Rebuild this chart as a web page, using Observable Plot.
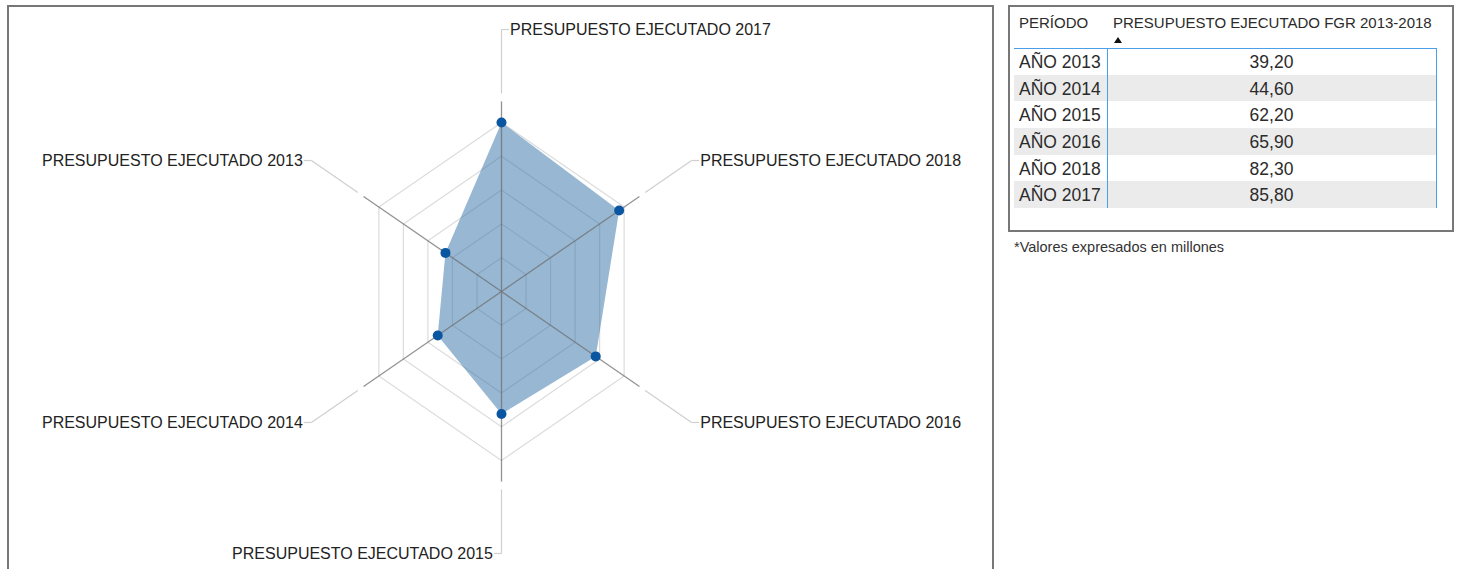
<!DOCTYPE html>
<html>
<head>
<meta charset="utf-8">
<script src="https://cdn.jsdelivr.net/npm/d3@7"></script>
<script src="https://cdn.jsdelivr.net/npm/@observablehq/plot@0.6"></script>
<style>
  html, body { margin: 0; padding: 0; background: #fff; width: 1459px; height: 569px; overflow: hidden; font-family: "Liberation Sans", Arial, sans-serif; }
  .abs { position: absolute; }
  #leftbox { left: 7px; top: 5px; width: 987px; height: 620px; border: 2px solid #777; box-sizing: border-box; }
  #rightbox { left: 1008px; top: 5px; width: 446px; height: 227px; border: 2px solid #777; box-sizing: border-box; }
  #chart { left: 0; top: 0; }
  .cell { position: absolute; color: #2b2b2b; white-space: nowrap; line-height: 1; }
</style>
</head>
<body>
<div id="leftbox" class="abs"></div>
<div id="chart" class="abs"></div>
<div id="rightbox" class="abs"></div>
<div id="table" class="abs" style="left:0;top:0;"></div>
<script>
// ---- data ----
const periods = ["AÑO 2013", "AÑO 2014", "AÑO 2015", "AÑO 2016", "AÑO 2018", "AÑO 2017"];
const periodYears = [2013, 2014, 2015, 2016, 2018, 2017];
const values = [39.2, 44.6, 62.2, 65.9, 82.3, 85.8];
const axisYears = [2017, 2018, 2016, 2015, 2014, 2013];
const axisLabels = ["PRESUPUESTO EJECUTADO 2017", "PRESUPUESTO EJECUTADO 2018", "PRESUPUESTO EJECUTADO 2016",
                    "PRESUPUESTO EJECUTADO 2015", "PRESUPUESTO EJECUTADO 2014", "PRESUPUESTO EJECUTADO 2013"];
const ringLevels = [1, 2, 3, 4, 5];
const tableHeader = ["PERÍODO", "PRESUPUESTO EJECUTADO FGR 2013-2018"];
const note = "*Valores expresados en millones";

// ---- geometry ----
const W = 1000, H = 569, cx = 501, cy = 291;
const maxV = d3.max(values);
const k = 169 / maxV;          // px per unit vertically
const kx = k * 0.838;          // px per unit horizontally
const n = axisYears.length;
const ang = i => (90 - 60 * i) * Math.PI / 180;
const valOf = y => values[periodYears.indexOf(y)];

const pts = axisYears.map((y, i) => ({i, year: y, v: valOf(y), x: valOf(y) * Math.cos(ang(i)), y: valOf(y) * Math.sin(ang(i))}));

const rings = [];
ringLevels.forEach(l => {
  const r = maxV * l / ringLevels.length;
  for (let i = 0; i <= n; i++) rings.push({ring: l, x: r * Math.cos(ang(i % n)), y: r * Math.sin(ang(i % n))});
});

const rDark = 96.5, rLight0 = 100.5, rLight1 = 133, tick = 4.6;
const axes = axisYears.map((y, i) => {
  const c = Math.cos(ang(i)), s = Math.sin(ang(i));
  const ex = rLight1 * c, ey = rLight1 * s;
  const side = (i === 0 || i === 1 || i === 2) ? 1 : -1;
  return {i, label: axisLabels[i], dx2: rDark * c, dy2: rDark * s, lx1: rLight0 * c, ly1: rLight0 * s,
          ex, ey, tx: ex + side * tick, side};
});

const chart = Plot.plot({
  width: W, height: H,
  marginTop: 0, marginBottom: 0, marginLeft: 0, marginRight: 0,
  style: {fontFamily: "'Liberation Sans', Arial, sans-serif", background: "transparent", overflow: "visible"},
  x: {domain: [-cx / kx, (W - cx) / kx], axis: null},
  y: {domain: [-(H - cy) / k, cy / k], axis: null},
  marks: [
    Plot.line(rings, {x: "x", y: "y", z: "ring", stroke: "#dcdcdc", strokeWidth: 1.2}),
    Plot.line(pts, {x: "x", y: "y", curve: "linear-closed", fill: "#2f6fa8", fillOpacity: 0.5, stroke: "none"}),
    Plot.link(axes, {x1: 0, y1: 0, x2: "dx2", y2: "dy2", stroke: "#6f6f6f", strokeOpacity: 0.75, strokeWidth: 1.3}),
    Plot.link(axes, {x1: "lx1", y1: "ly1", x2: "ex", y2: "ey", stroke: "#cfcfcf", strokeWidth: 1.2}),
    Plot.link(axes, {x1: "ex", y1: "ey", x2: "tx", y2: "ey", stroke: "#cfcfcf", strokeWidth: 1.2}),
    Plot.text(axes.filter(d => d.side > 0), {x: "tx", y: "ey", text: "label", textAnchor: "start", dx: 1, fontSize: 16, fill: "#222"}),
    Plot.text(axes.filter(d => d.side < 0), {x: "tx", y: "ey", text: "label", textAnchor: "end", dx: -1, fontSize: 16, fill: "#222"}),
    Plot.dot(pts, {x: "x", y: "y", r: 5, fill: "#0b56a0"})
  ]
});
document.getElementById("chart").appendChild(chart);

// ---- table ----
const t = document.getElementById("table");
function add(html, style) { const d = document.createElement("div"); d.className = "cell"; d.innerHTML = html; Object.assign(d.style, style); t.appendChild(d); return d; }
const top0 = 48, rowH = 26.67, tL = 1014, tR = 1436, colX = 1107;
periods.forEach((p, i) => {
  const y = top0 + i * rowH;
  if (i % 2 === 1) add("", {left: tL + "px", top: y + "px", width: (tR - tL) + "px", height: rowH + "px", background: "#ebebeb"});
  add(p, {left: "1019px", top: (y + 6) + "px", fontSize: "17.5px"});
  add(values[i].toFixed(2).replace(".", ","), {left: colX + "px", width: (tR - colX) + "px", textAlign: "center", top: (y + 6) + "px", fontSize: "17.5px"});
});
add(tableHeader[0], {left: "1019px", top: "15px", fontSize: "15px"});
add(tableHeader[1], {left: "1113px", top: "15px", fontSize: "15px"});
add("", {left: "1114px", top: "37px", width: 0, height: 0, borderLeft: "4px solid transparent", borderRight: "4px solid transparent", borderBottom: "6px solid #111"});
add("", {left: tL + "px", top: top0 + "px", width: (tR - tL) + "px", height: "0", borderTop: "1.5px solid #4b9fe9"});
add("", {left: colX + "px", top: top0 + "px", width: 0, height: (rowH * 6) + "px", borderLeft: "1.5px solid #4b9fe9"});
add("", {left: tR + "px", top: top0 + "px", width: 0, height: (rowH * 6) + "px", borderLeft: "1.5px solid #4b9fe9"});
add(note, {left: "1014px", top: "240px", fontSize: "14.5px", color: "#333"});
</script>
</body>
</html>
